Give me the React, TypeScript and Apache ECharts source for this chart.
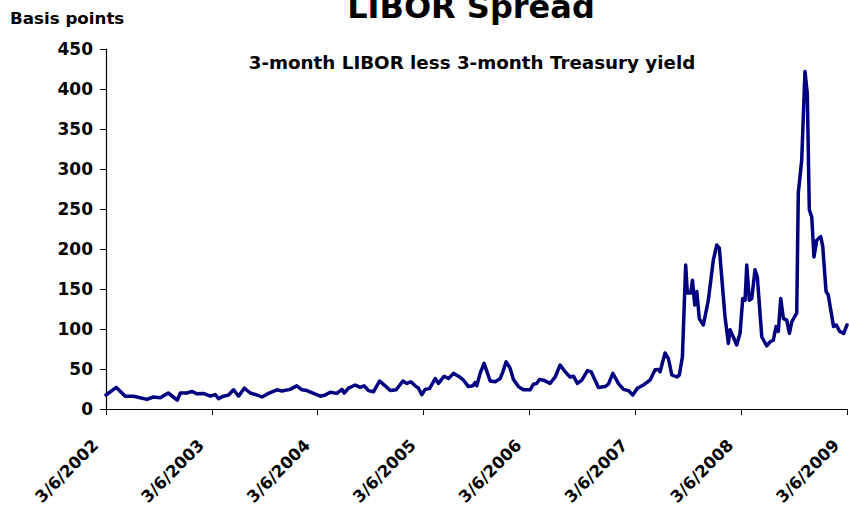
import React, { useEffect, useRef } from "react";
import * as echarts from "echarts";

// Years elapsed since 3/6/2002
const yearsSince2002: number[] = [
  0.0, 0.097, 0.182, 0.261, 0.387, 0.447, 0.513, 0.588, 0.636, 0.673, 0.702, 0.765, 0.812, 0.859, 0.919, 0.985,
  1.032, 1.063, 1.11, 1.158, 1.205, 1.252, 1.306, 1.363, 1.426, 1.473, 1.535, 1.615, 1.662, 1.74, 1.802, 1.851,
  1.898, 1.96, 2.024, 2.071, 2.118, 2.181, 2.229, 2.25, 2.291, 2.354, 2.401, 2.439, 2.48, 2.527, 2.584, 2.637,
  2.685, 2.741, 2.805, 2.842, 2.88, 2.921, 2.952, 2.984, 3.015, 3.056, 3.11, 3.141, 3.195, 3.235, 3.282, 3.33,
  3.377, 3.424, 3.466, 3.487, 3.503, 3.534, 3.572, 3.629, 3.676, 3.723, 3.749, 3.78, 3.817, 3.849, 3.896, 3.943,
  4.006, 4.038, 4.07, 4.094, 4.132, 4.195, 4.243, 4.29, 4.337, 4.384, 4.416, 4.453, 4.495, 4.548, 4.583, 4.652,
  4.715, 4.746, 4.788, 4.84, 4.888, 4.935, 4.976, 5.02, 5.076, 5.139, 5.187, 5.218, 5.234, 5.281, 5.313, 5.345,
  5.392, 5.416, 5.445, 5.476, 5.492, 5.524, 5.54, 5.562, 5.581, 5.605, 5.643, 5.69, 5.737, 5.77, 5.794, 5.832,
  5.848, 5.879, 5.895, 5.926, 5.958, 5.99, 6.015, 6.037, 6.053, 6.077, 6.1, 6.131, 6.153, 6.195, 6.242, 6.274,
  6.304, 6.33, 6.351, 6.374, 6.399, 6.431, 6.456, 6.478, 6.525, 6.54, 6.572, 6.603, 6.625, 6.644, 6.667, 6.688,
  6.714, 6.752, 6.771, 6.802, 6.823, 6.873, 6.899, 6.931, 6.969, 7.0,
];

// Spread in basis points
const spreadBp: number[] = [
  17.5, 27, 16, 16, 12, 15, 14, 20, 15, 11, 20, 20, 22, 19, 19.5, 16,
  18, 13, 16, 17.5, 24, 16, 26, 20, 17.5, 15, 19.5, 24, 22.5, 24.5, 29, 24,
  23, 19.5, 16, 17.5, 21, 19.5, 24.5, 20, 26, 30, 27, 29, 23, 21.5, 35, 29,
  23, 24, 35, 32, 34, 29, 26, 18, 24.5, 25.5, 38, 32, 41, 38, 44.5, 41,
  36, 28, 29, 33, 29, 44.5, 57, 35, 34, 38, 46.5, 59, 51, 37, 28, 24,
  24, 31, 32, 37, 36, 32, 40, 55, 46.5, 40, 41, 32, 36, 48, 46.5, 27,
  28, 31, 44.5, 32, 24.5, 23, 17.5, 26, 30, 36, 49, 49.5, 46.5, 70, 63, 42.5,
  40, 42.5, 65, 180, 145, 145, 161, 130, 147, 113, 105, 136, 186, 205, 201, 140,
  115, 82, 99, 90, 80, 95, 138, 136, 180, 136, 138, 174, 165, 90, 79, 84,
  86, 103, 97, 138, 113, 111, 94.5, 109, 120, 270, 311, 422, 394, 249, 240, 190,
  211, 215.5, 203, 147, 142.5, 103, 105, 97, 94.5, 105,
];

const tickYears: number[] = [0, 1, 2, 3, 4, 5, 6, 7];
const tickLabels: string[] = ["3/6/2002", "3/6/2003", "3/6/2004", "3/6/2005", "3/6/2006", "3/6/2007", "3/6/2008", "3/6/2009"];

const FONT = "'DejaVu Sans', sans-serif";

export default function App() {
  const ref = useRef<HTMLDivElement>(null);

  useEffect(() => {
    document.body.style.margin = "0";
    if (!ref.current) return;
    const chart = echarts.init(ref.current, undefined, { renderer: "svg" });
    const data = yearsSince2002.map((t, i) => [t, spreadBp[i]]);
    chart.setOption({
      animation: false,
      backgroundColor: "#ffffff",
      grid: { left: 106, right: 3, top: 49, bottom: 100, containLabel: false, outerBoundsMode: "none" },
      graphic: [
        {
          type: "text",
          style: {
            text: "LIBOR Spread",
            x: 471,
            y: 7,
            textAlign: "center",
            textVerticalAlign: "middle",
            font: `bold 32px ${FONT}`,
            fill: "#000",
          },
        },
        {
          type: "text",
          style: {
            text: "Basis points",
            x: 10,
            y: 18,
            textAlign: "left",
            textVerticalAlign: "middle",
            font: `bold 16.7px ${FONT}`,
            fill: "#000",
          },
        },
        {
          type: "text",
          style: {
            text: "3-month LIBOR less 3-month Treasury yield",
            x: 472,
            y: 62,
            textAlign: "center",
            textVerticalAlign: "middle",
            font: `bold 18.3px ${FONT}`,
            fill: "#000",
          },
        },
      ],
      xAxis: {
        type: "value",
        min: 0,
        max: 7,
        interval: 1,
        axisLine: { show: true, lineStyle: { color: "#000", width: 1.2 } },
        axisTick: { show: true, inside: false, length: 6, lineStyle: { color: "#000" } },
        splitLine: { show: false },
        axisLabel: {
          show: true,
          rotate: 45,
          margin: 23,
          padding: [0, 15, 0, 0],
          fontSize: 16.5,
          fontWeight: "bold",
          fontFamily: FONT,
          color: "#000",
          showMinLabel: true,
          showMaxLabel: true,
          formatter: (v: number) => {
            const i = tickYears.indexOf(Math.round(v));
            return i >= 0 ? tickLabels[i] : "";
          },
        },
      },
      yAxis: {
        type: "value",
        min: 0,
        max: 450,
        interval: 50,
        axisLine: { show: true, lineStyle: { color: "#000", width: 1.2 } },
        axisTick: { show: true, inside: false, length: 6, lineStyle: { color: "#000" } },
        splitLine: { show: false },
        axisLabel: {
          margin: 13,
          fontSize: 17,
          fontWeight: "bold",
          fontFamily: FONT,
          color: "#000",
        },
      },
      series: [
        {
          type: "line",
          data,
          showSymbol: false,
          symbol: "none",
          clip: false,
          lineStyle: { color: "#000080", width: 3.5, join: "round", cap: "round" },
          itemStyle: { color: "#000080" },
        },
      ],
    });
    return () => chart.dispose();
  }, []);

  return (
    <div
      ref={ref}
      style={{ position: "absolute", left: 0, top: 0, width: 850, height: 509 }}
    />
  );
}
